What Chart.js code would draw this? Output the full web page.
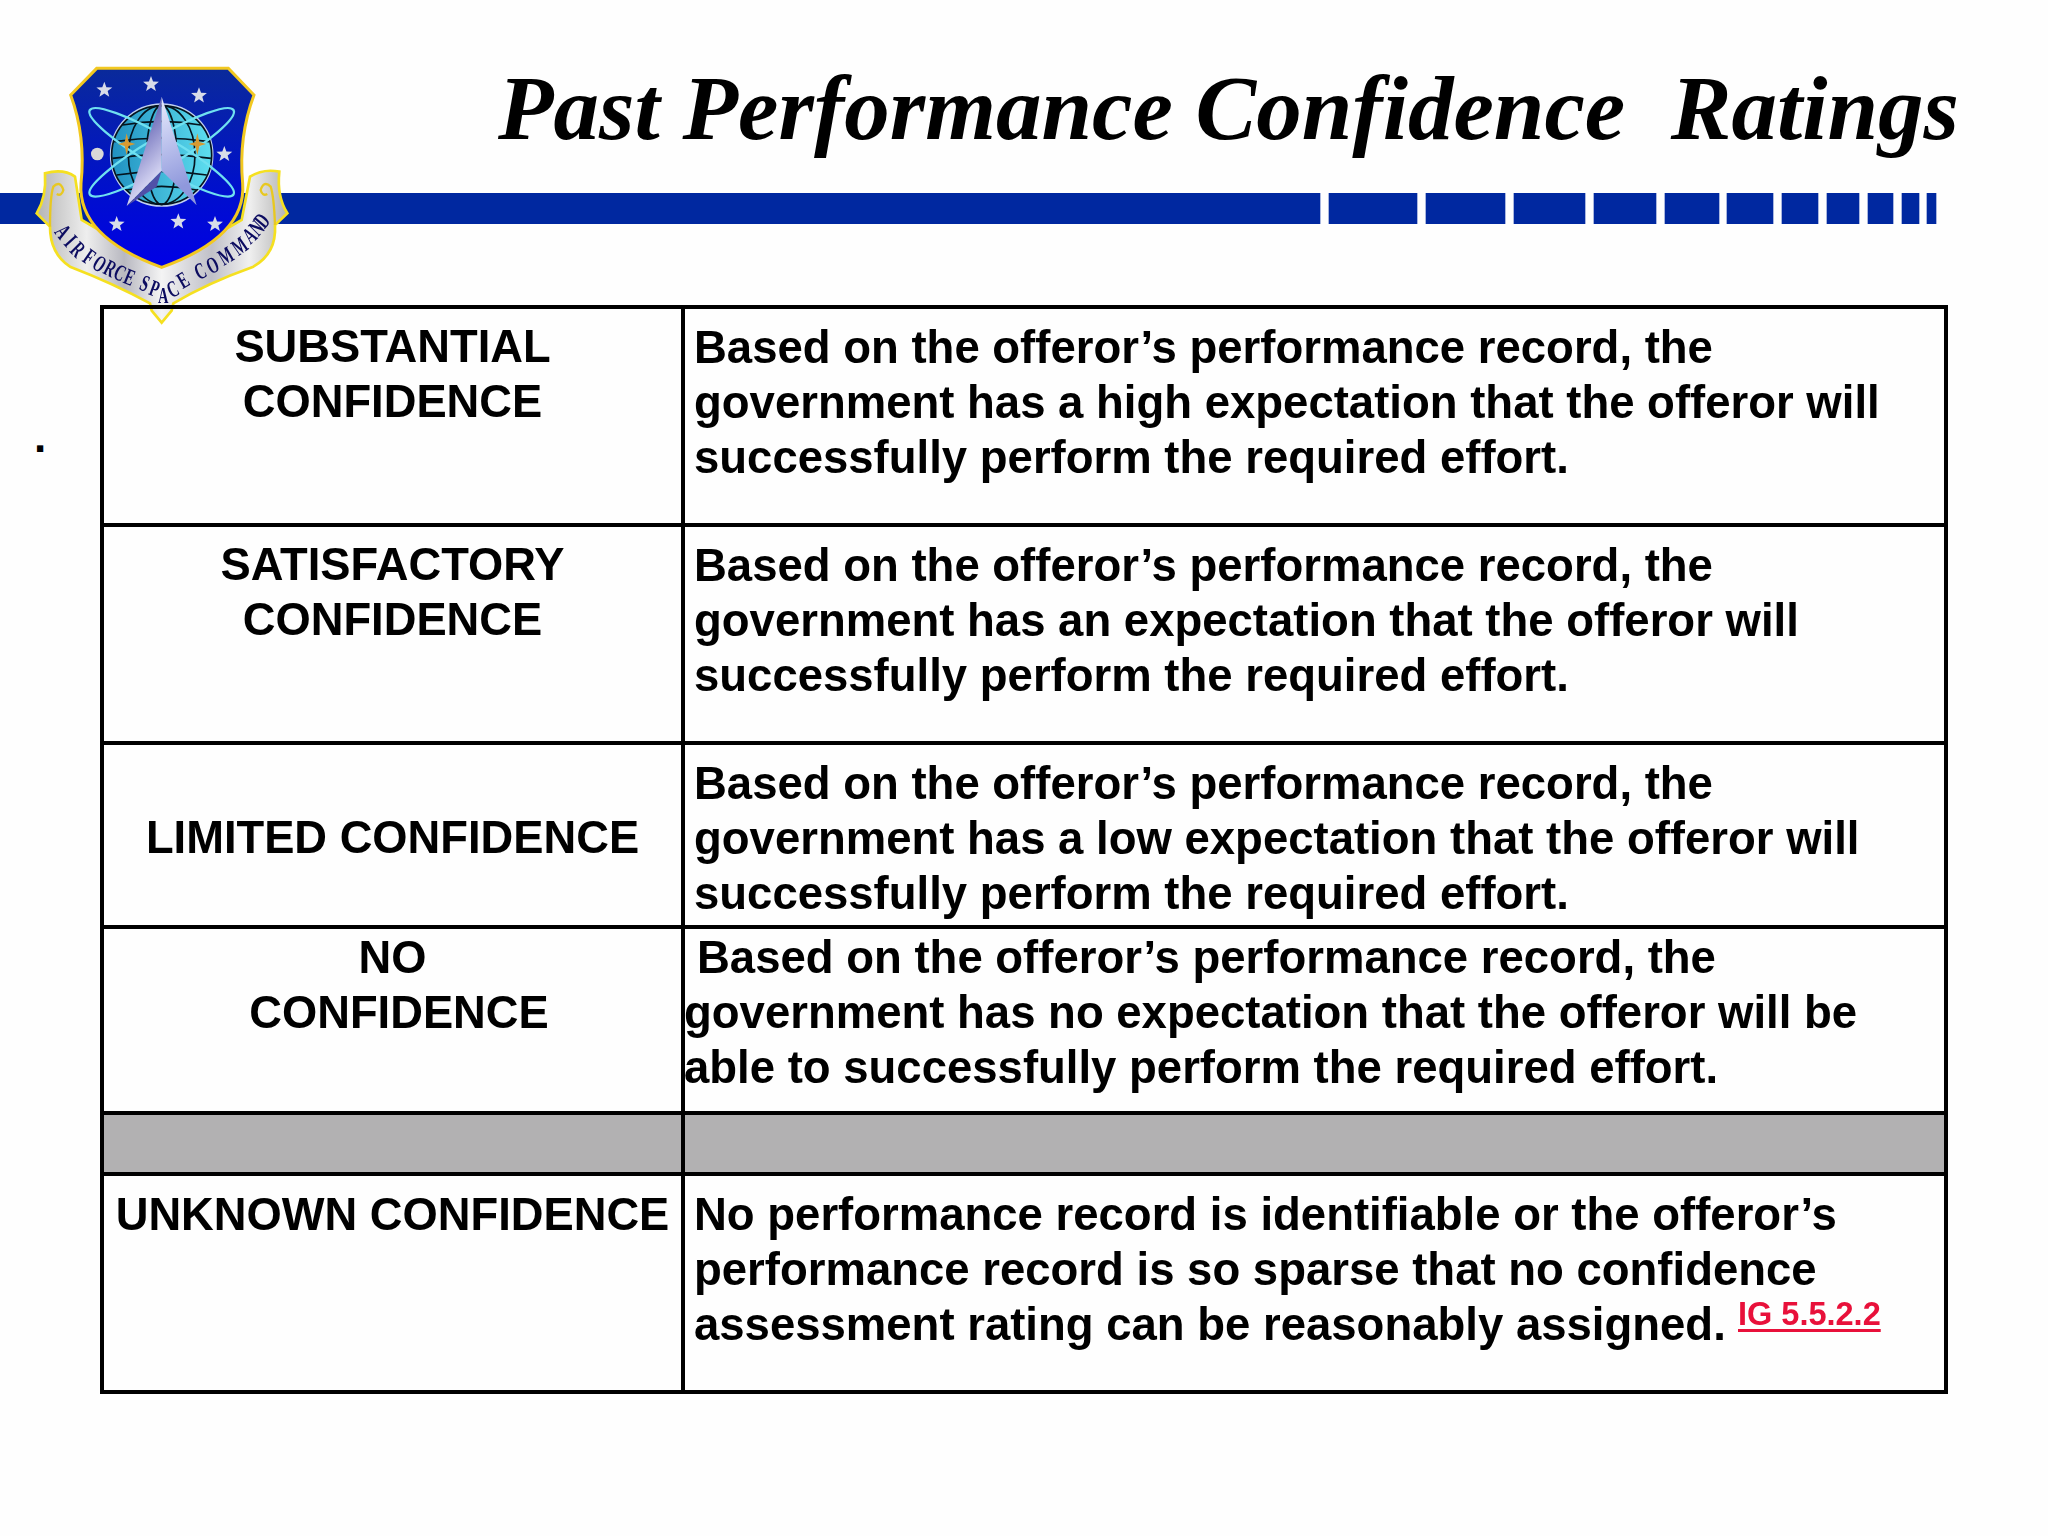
<!DOCTYPE html>
<html lang="en">
<head>
    <meta charset="UTF-8">
    <script src="https://cdn.jsdelivr.net/npm/chart.js"></script>
    <title>Past Performance Confidence Ratings</title>
    <style>
        body { margin: 0; background: #fefefe; width: 2048px; height: 1536px; position: relative; overflow: hidden; }
        canvas { position: absolute; }
        #bandBox { position: absolute; left: 0; top: 193px; width: 2048px; height: 31px; }
        #tableBox { position: absolute; left: 100px; top: 305px; width: 1848px; height: 1089px; }
        #logo { left: 0; top: 40px; }
        h1 {
            position: absolute; left: 498px; top: 56px; margin: 0; white-space: pre;
            font: italic bold 91px "Liberation Serif"; color: #000;
        }
        #dot { position: absolute; left: 34px; top: 412px; font: bold 44px "Liberation Sans"; }
    </style>
</head>
<body>
<div id="bandBox"><canvas id="bandChart" width="2048" height="31"></canvas></div>
<canvas id="logo" width="320" height="300"></canvas>
<div id="tableBox"><canvas id="tableChart" width="1848" height="1089"></canvas></div>
<h1>Past Performance Confidence  Ratings</h1>
<div id="dot">.</div>

<script>
    const ratings = [
        ['SUBSTANTIAL', 'CONFIDENCE'],
        ['SATISFACTORY', 'CONFIDENCE'],
        ['LIMITED CONFIDENCE'],
        ['NO', 'CONFIDENCE'],
        [],
        ['UNKNOWN CONFIDENCE']
    ];
    const descriptions = [
        ['Based on the offeror’s performance record, the', 'government has a high expectation that the offeror will', 'successfully perform the required effort.'],
        ['Based on the offeror’s performance record, the', 'government has an expectation that the offeror will', 'successfully perform the required effort.'],
        ['Based on the offeror’s performance record, the', 'government has a low expectation that the offeror will', 'successfully perform the required effort.'],
        ['Based on the offeror’s performance record, the', 'government has no expectation that the offeror will be', 'able to successfully perform the required effort.'],
        [],
        ['No performance record is identifiable or the offeror’s', 'performance record is so sparse that no confidence', 'assessment rating can be reasonably assigned.']
    ];
    const rowEdges = [0, 218, 436, 620, 806, 867, 1085];
    const colEdges = [0, 581, 1844];
    const grayRow = 4;
    const bandStarts = [0, 1329, 1426, 1514, 1594, 1665, 1727, 1782, 1827, 1868, 1902, 1927];
    const bandEnds = [1320, 1417, 1505, 1585, 1656, 1719, 1773, 1818, 1859, 1893, 1919, 1936];
    const reference = 'IG 5.5.2.2';

    // band across the top, one floating bar per block
    new Chart(document.getElementById('bandChart'), {
        type: 'bar',
        data: {
            labels: ['band'],
            datasets: bandStarts.map((s, i) => ({
                data: [[s, bandEnds[i]]],
                backgroundColor: '#0028a0',
                grouped: false,
                barPercentage: 1,
                categoryPercentage: 1
            }))
        },
        options: {
            indexAxis: 'y',
            responsive: false,
            animation: false,
            devicePixelRatio: 1,
            plugins: { legend: { display: false }, tooltip: { enabled: false } },
            scales: {
                x: { display: false, min: 0, max: 2048 },
                y: { display: false }
            }
        }
    });

    const firstBaseline = [55.5, 55.5, 55.5, 46, 0, 55.5];
    const leftBaseline = [55, 55, 110, 46, 0, 55.5];
    const lineGap = 55;

    const tableText = {
        id: 'tableText',
        afterDraw(chart) {
            const ctx = chart.ctx;
            const x = chart.scales.x;
            const y = chart.scales.y;
            const area = chart.chartArea;
            ctx.save();
            // grid lines stop short at the corners, so close the frame
            ctx.strokeStyle = '#000';
            ctx.lineWidth = 4;
            ctx.strokeRect(area.left, area.top, area.right - area.left, area.bottom - area.top);

            ctx.fillStyle = '#000';
            ctx.textBaseline = 'alphabetic';
            ctx.font = 'bold 45.3px "Liberation Sans"';
            ratings.forEach((lines, r) => {
                const top = y.getPixelForValue(rowEdges[r]);
                lines.forEach((line, i) => {
                    let cx = x.getPixelForValue(colEdges[1] / 2);
                    if (r === 3 && i === 1) cx += 6.5;
                    ctx.textAlign = 'center';
                    ctx.fillText(line, cx, top + leftBaseline[r] + i * lineGap);
                });
            });
            ctx.font = 'bold 45.5px "Liberation Sans"';
            descriptions.forEach((lines, r) => {
                const top = y.getPixelForValue(rowEdges[r]);
                lines.forEach((line, i) => {
                    let lx = x.getPixelForValue(colEdges[1]) + 11;
                    if (r === 3) lx += i === 0 ? 3 : -10;
                    ctx.textAlign = 'left';
                    ctx.fillText(line, lx, top + firstBaseline[r] + i * lineGap);
                });
            });
            // red cross reference after the last row
            const refX = x.getPixelForValue(colEdges[1]) + 1055;
            const refY = y.getPixelForValue(rowEdges[5]) + 151;
            ctx.font = 'bold 32.5px "Liberation Sans"';
            ctx.fillStyle = '#e8103a';
            ctx.textAlign = 'left';
            ctx.fillText(reference, refX, refY);
            ctx.fillRect(refX, refY + 4, ctx.measureText(reference).width, 3);
            ctx.restore();
        }
    };

    new Chart(document.getElementById('tableChart'), {
        type: 'scatter',
        data: {
            datasets: [{
                data: [
                    { x: colEdges[0], y: rowEdges[grayRow] },
                    { x: colEdges[2], y: rowEdges[grayRow] }
                ],
                showLine: true,
                borderWidth: 0,
                pointRadius: 0,
                backgroundColor: '#b2b1b2',
                fill: { value: rowEdges[grayRow + 1] }
            }]
        },
        options: {
            responsive: false,
            animation: false,
            devicePixelRatio: 1,
            layout: { padding: 2 },
            plugins: { legend: { display: false }, tooltip: { enabled: false } },
            scales: {
                x: {
                    type: 'linear',
                    min: colEdges[0],
                    max: colEdges[2],
                    afterBuildTicks: axis => { axis.ticks = colEdges.map(v => ({ value: v })); },
                    ticks: { display: false },
                    border: { display: false },
                    grid: { color: '#000', lineWidth: 4, drawTicks: false, z: 1 }
                },
                y: {
                    type: 'linear',
                    reverse: true,
                    min: rowEdges[0],
                    max: rowEdges[rowEdges.length - 1],
                    afterBuildTicks: axis => { axis.ticks = rowEdges.map(v => ({ value: v })); },
                    ticks: { display: false },
                    border: { display: false },
                    grid: { color: '#000', lineWidth: 4, drawTicks: false, z: 1 }
                }
            }
        },
        plugins: [tableText]
    });

    // crest, drawn by hand in the 3x units it was measured in
    function star(c, x, y, r) {
        c.beginPath();
        for (let i = 0; i < 10; i++) {
            const a = -Math.PI / 2 + i * Math.PI / 5;
            const rr = i % 2 ? r * 0.42 : r;
            c.lineTo(x + rr * Math.cos(a), y + rr * Math.sin(a));
        }
        c.closePath();
        c.fillStyle = '#d8dce8';
        c.fill();
    }

    function drawLogo() {
        const c = document.getElementById('logo').getContext('2d');
        c.scale(1 / 3, 1 / 3);

        // ribbon
        const ribbon = c.createLinearGradient(110, 0, 860, 0);
        ribbon.addColorStop(0, '#b4b4b4');
        ribbon.addColorStop(0.2, '#eeeeee');
        ribbon.addColorStop(0.35, '#b8b8c0');
        ribbon.addColorStop(0.5, '#f4f4f4');
        ribbon.addColorStop(0.7, '#c0c0c8');
        ribbon.addColorStop(0.85, '#f0f0f0');
        ribbon.addColorStop(1, '#b4b4b4');
        c.beginPath();
        c.moveTo(135, 400);
        c.quadraticCurveTo(190, 385, 225, 410);
        c.lineTo(245, 540);
        c.lineTo(485, 680);
        c.lineTo(725, 540);
        c.lineTo(750, 410);
        c.quadraticCurveTo(790, 385, 838, 395);
        c.quadraticCurveTo(830, 470, 862, 520);
        c.lineTo(825, 555);
        c.quadraticCurveTo(830, 640, 760, 680);
        c.quadraticCurveTo(620, 730, 520, 790);
        c.lineTo(515, 812);
        c.lineTo(485, 848);
        c.lineTo(455, 812);
        c.lineTo(450, 790);
        c.quadraticCurveTo(340, 730, 210, 680);
        c.quadraticCurveTo(150, 640, 150, 560);
        c.lineTo(110, 520);
        c.quadraticCurveTo(140, 470, 135, 400);
        c.closePath();
        c.fillStyle = ribbon;
        c.fill();
        c.strokeStyle = '#f5e020';
        c.lineWidth = 8;
        c.stroke();

        // curled ribbon ends
        c.strokeStyle = '#e8c820';
        c.lineWidth = 7;
        c.beginPath();
        c.moveTo(150, 560);
        c.quadraticCurveTo(150, 470, 160, 440);
        c.quadraticCurveTo(180, 420, 190, 450);
        c.quadraticCurveTo(185, 470, 170, 462);
        c.stroke();
        c.beginPath();
        c.moveTo(825, 555);
        c.quadraticCurveTo(822, 470, 812, 440);
        c.quadraticCurveTo(792, 420, 782, 450);
        c.quadraticCurveTo(787, 470, 802, 462);
        c.stroke();

        // shield
        const shield = c.createLinearGradient(0, 85, 0, 680);
        shield.addColorStop(0, '#0a2a9a');
        shield.addColorStop(0.6, '#0010cc');
        shield.addColorStop(1, '#0000e6');
        c.beginPath();
        c.moveTo(290, 85);
        c.lineTo(685, 85);
        c.lineTo(762, 165);
        c.quadraticCurveTo(715, 290, 728, 430);
        c.quadraticCurveTo(740, 590, 485, 682);
        c.quadraticCurveTo(232, 590, 243, 430);
        c.quadraticCurveTo(258, 290, 212, 165);
        c.closePath();
        c.fillStyle = shield;
        c.fill();
        c.strokeStyle = '#f2c820';
        c.lineWidth = 9;
        c.stroke();

        // globe
        const globe = c.createLinearGradient(330, 0, 640, 0);
        globe.addColorStop(0, '#1f8fc0');
        globe.addColorStop(1, '#5fe0f0');
        c.beginPath();
        c.arc(485, 345, 152, 0, Math.PI * 2);
        c.fillStyle = globe;
        c.fill();
        c.strokeStyle = '#c0d0f0';
        c.lineWidth = 7;
        c.stroke();
        c.strokeStyle = '#04141e';
        c.lineWidth = 5;
        [45, 100, 150].forEach(rx => {
            c.beginPath();
            c.ellipse(485, 345, rx, 148, 0, 0, Math.PI * 2);
            c.stroke();
        });
        [-90, -40, 10, 60, 105].forEach(dy => {
            c.beginPath();
            const half = Math.sqrt(148 * 148 - dy * dy);
            c.moveTo(485 - half, 345 + dy);
            c.quadraticCurveTo(485, 345 + dy - 22, 485 + half, 345 + dy);
            c.stroke();
        });

        // orbits
        c.strokeStyle = '#6fe0f0';
        c.lineWidth = 7;
        [0.53, -0.53].forEach(rot => {
            c.beginPath();
            c.ellipse(485, 337, 250, 46, rot, 0, Math.PI * 2);
            c.stroke();
        });

        // gold crosses
        c.fillStyle = '#d89a30';
        [380, 592].forEach(cx => {
            c.beginPath();
            c.moveTo(cx, 280); c.lineTo(cx + 6, 306); c.lineTo(cx + 26, 312); c.lineTo(cx + 6, 318);
            c.lineTo(cx, 345); c.lineTo(cx - 6, 318); c.lineTo(cx - 26, 312); c.lineTo(cx - 6, 306);
            c.closePath();
            c.fill();
        });

        // delta
        const deltaL = c.createLinearGradient(380, 300, 485, 400);
        deltaL.addColorStop(0, '#6a6ab8');
        deltaL.addColorStop(1, '#d8d8f4');
        c.beginPath();
        c.moveTo(485, 170); c.lineTo(380, 498); c.lineTo(485, 392); c.closePath();
        c.fillStyle = deltaL;
        c.fill();
        const deltaR = c.createLinearGradient(485, 200, 590, 420);
        deltaR.addColorStop(0, '#e0e4fa');
        deltaR.addColorStop(1, '#8f98dc');
        c.beginPath();
        c.moveTo(485, 170); c.lineTo(590, 496); c.lineTo(485, 392); c.closePath();
        c.fillStyle = deltaR;
        c.fill();
        c.beginPath();
        c.moveTo(485, 392); c.lineTo(380, 498); c.lineTo(470, 440); c.closePath();
        c.fillStyle = '#5050a8';
        c.fill();

        // stars and moon
        [[313, 150], [453, 133], [597, 167], [673, 343], [350, 553], [535, 545], [645, 553]].forEach(p => star(c, p[0], p[1], 25));
        c.beginPath();
        c.arc(292, 342, 19, 0, Math.PI * 2);
        c.fillStyle = '#d8d8d8';
        c.fill();

        // ribbon lettering, narrow and tall like the original
        const letters = [
            ['A', 185, 578, 52], ['I', 208, 606, 48], ['R', 230, 632, 45],
            ['F', 265, 655, 35], ['O', 296, 675, 32], ['R', 328, 690, 28], ['C', 358, 703, 25], ['E', 387, 716, 22],
            ['S', 433, 735, 22], ['P', 462, 750, 20], ['A', 490, 772, 0], ['C', 520, 752, -25], ['E', 552, 725, -30],
            ['C', 603, 698, -25], ['O', 640, 680, -25], ['M', 680, 652, -30], ['M', 722, 622, -35], ['A', 752, 590, -40], ['N', 773, 567, -45], ['D', 790, 545, -50]
        ];
        c.fillStyle = '#0c0c60';
        c.font = 'bold 70px "Liberation Serif"';
        c.textAlign = 'center';
        c.textBaseline = 'middle';
        letters.forEach(l => {
            c.save();
            c.translate(l[1], l[2]);
            c.rotate(l[3] * Math.PI / 180);
            c.scale(0.62, 1);
            c.fillText(l[0], 0, 0);
            c.restore();
        });
    }
    drawLogo();
</script>
</body>
</html>
